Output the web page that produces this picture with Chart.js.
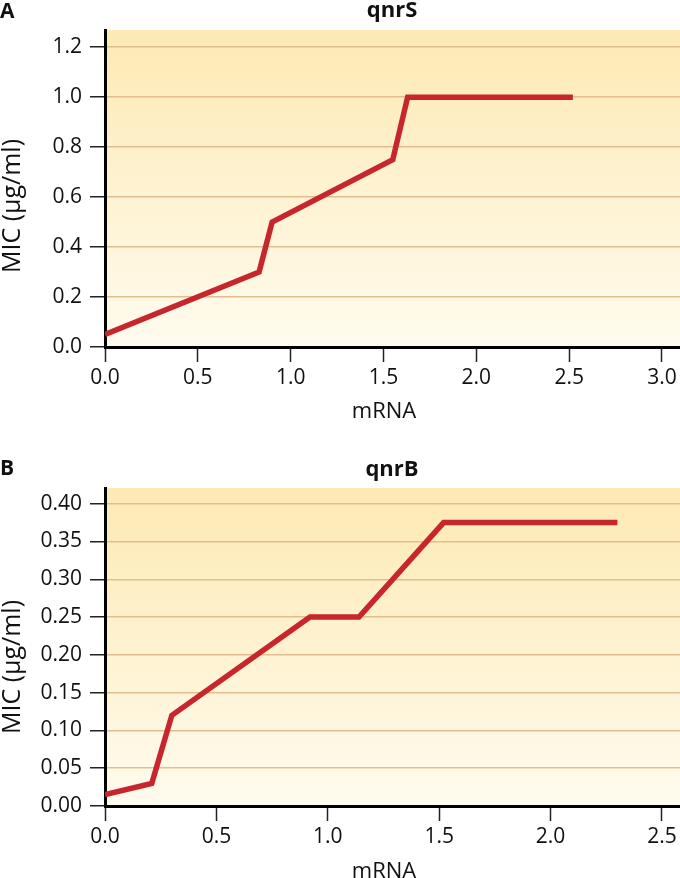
<!DOCTYPE html>
<html>
<head>
<meta charset="utf-8">
<script src="https://cdn.jsdelivr.net/npm/chart.js@4.4.1/dist/chart.umd.min.js"></script>
<style>
  html, body { margin: 0; padding: 0; background: #ffffff; }
  #wrap { position: relative; width: 680px; height: 878px; overflow: hidden; }
  .panel { position: absolute; left: 0; width: 680px; }
</style>
</head>
<body>
<div id="wrap">
  <div class="panel" style="top:0;height:440px;"><canvas id="chartA" width="680" height="440"></canvas></div>
  <div class="panel" style="top:440px;height:438px;"><canvas id="chartB" width="680" height="438"></canvas></div>
</div>
<script>
// ---- Data: panel A (qnrS) ----
const titleA = 'qnrS';
const mrnaA = [0, 0.83, 0.9, 1.55, 1.63, 2.52];
const micA  = [0.05, 0.30, 0.50, 0.75, 1.00, 1.00];
const xTicksA = [0, 0.5, 1.0, 1.5, 2.0, 2.5, 3.0];
const yTicksA = [0, 0.2, 0.4, 0.6, 0.8, 1.0, 1.2];

// ---- Data: panel B (qnrB) ----
const titleB = 'qnrB';
const mrnaB = [0, 0.21, 0.3, 0.92, 1.14, 1.52, 2.3];
const micB  = [0.015, 0.03, 0.12, 0.25, 0.25, 0.375, 0.375];
const xTicksB = [0, 0.5, 1.0, 1.5, 2.0, 2.5];
const yTicksB = [0, 0.05, 0.10, 0.15, 0.20, 0.25, 0.30, 0.35, 0.40];

const xLabel = 'mRNA';
const yLabel = 'MIC (\u03bcg/ml)';

const FONT = "'Open Sans', 'Noto Sans', sans-serif";

const bgPlugin = {
  id: 'bgGradient',
  beforeDraw(chart) {
    const { ctx, chartArea: a } = chart;
    const g = ctx.createLinearGradient(0, a.top, 0, a.bottom);
    g.addColorStop(0, '#fde9b3');
    g.addColorStop(1, '#fffbee');
    ctx.save();
    ctx.fillStyle = g;
    ctx.fillRect(a.left, a.top, a.right - a.left, a.bottom - a.top);
    ctx.restore();
  }
};

const textPlugin = {
  id: 'panelText',
  afterDraw(chart, args, opts) {
    const ctx = chart.ctx;
    ctx.save();
    ctx.fillStyle = '#111';
    ctx.textBaseline = 'middle';
    // panel letter
    ctx.font = `bold 21px ${FONT}`;
    ctx.textAlign = 'left';
    ctx.fillText(opts.letter, 0, opts.letterY);
    // title
    ctx.font = `bold 22px ${FONT}`;
    ctx.textAlign = 'center';
    ctx.fillText(opts.title, 392, opts.titleY);
    // x axis title
    ctx.font = `22px ${FONT}`;
    ctx.fillText(xLabel, 384, opts.xTitleY);
    // y axis title
    ctx.font = `25px ${FONT}`;
    ctx.translate(13, opts.yTitleY);
    ctx.rotate(-Math.PI / 2);
    ctx.fillText(yLabel, 0, 0);
    ctx.restore();
  }
};

function makeChart(id, xs, ys, xTicks, yTicks, xMax, yMax, decY, topPad, xHeight, txt) {
  return new Chart(document.getElementById(id), {
    type: 'line',
    data: {
      datasets: [{
        data: xs.map((x, i) => ({ x: x, y: ys[i] })),
        borderColor: '#c8262d',
        borderWidth: 5.5,
        pointRadius: 0,
        tension: 0,
        fill: false,
        borderJoinStyle: 'miter',
        borderCapStyle: 'butt'
      }]
    },
    options: {
      responsive: false,
      animation: false,
      devicePixelRatio: 1,
      layout: { padding: { top: topPad, left: 0, right: 0, bottom: 0 } },
      plugins: {
        legend: { display: false },
        tooltip: { enabled: false },
        panelText: txt
      },
      scales: {
        x: {
          type: 'linear',
          min: 0,
          max: xMax,
          afterBuildTicks: s => { s.ticks = xTicks.map(v => ({ value: v })); },
          afterFit: s => { s.height = xHeight; },
          ticks: {
            callback: v => Number(v).toFixed(1),
            font: { family: FONT, size: 21 },
            color: '#111',
            padding: 3,
            maxRotation: 0
          },
          grid: {
            drawOnChartArea: false,
            drawTicks: true,
            tickLength: 15,
            tickColor: '#222',
            tickWidth: 1.5
          },
          border: { display: true, color: '#000', width: 3 }
        },
        y: {
          type: 'linear',
          min: 0,
          max: yMax,
          afterBuildTicks: s => { s.ticks = yTicks.map(v => ({ value: v })); },
          afterFit: s => { s.width = 105; },
          ticks: {
            callback: v => Number(v).toFixed(decY),
            font: { family: FONT, size: 21 },
            color: '#111',
            padding: 8
          },
          grid: {
            drawOnChartArea: true,
            color: '#e2bd8f',
            lineWidth: 1.5,
            drawTicks: true,
            tickLength: 15,
            tickColor: '#222',
            tickWidth: 1.5
          },
          border: { display: true, color: '#000', width: 3 }
        }
      }
    },
    plugins: [bgPlugin, textPlugin]
  });
}

makeChart('chartA', mrnaA, micA, xTicksA, yTicksA, 3.097, 1.269, 1, 30, 93,
  { letter: 'A', letterY: 12, title: titleA, titleY: 11, xTitleY: 412, yTitleY: 206 });
makeChart('chartB', mrnaB, micB, xTicksB, yTicksB, 2.581, 0.4208, 2, 48, 72,
  { letter: 'B', letterY: 29, title: titleB, titleY: 30, xTitleY: 432, yTitleY: 227 });
</script>
</body>
</html>
